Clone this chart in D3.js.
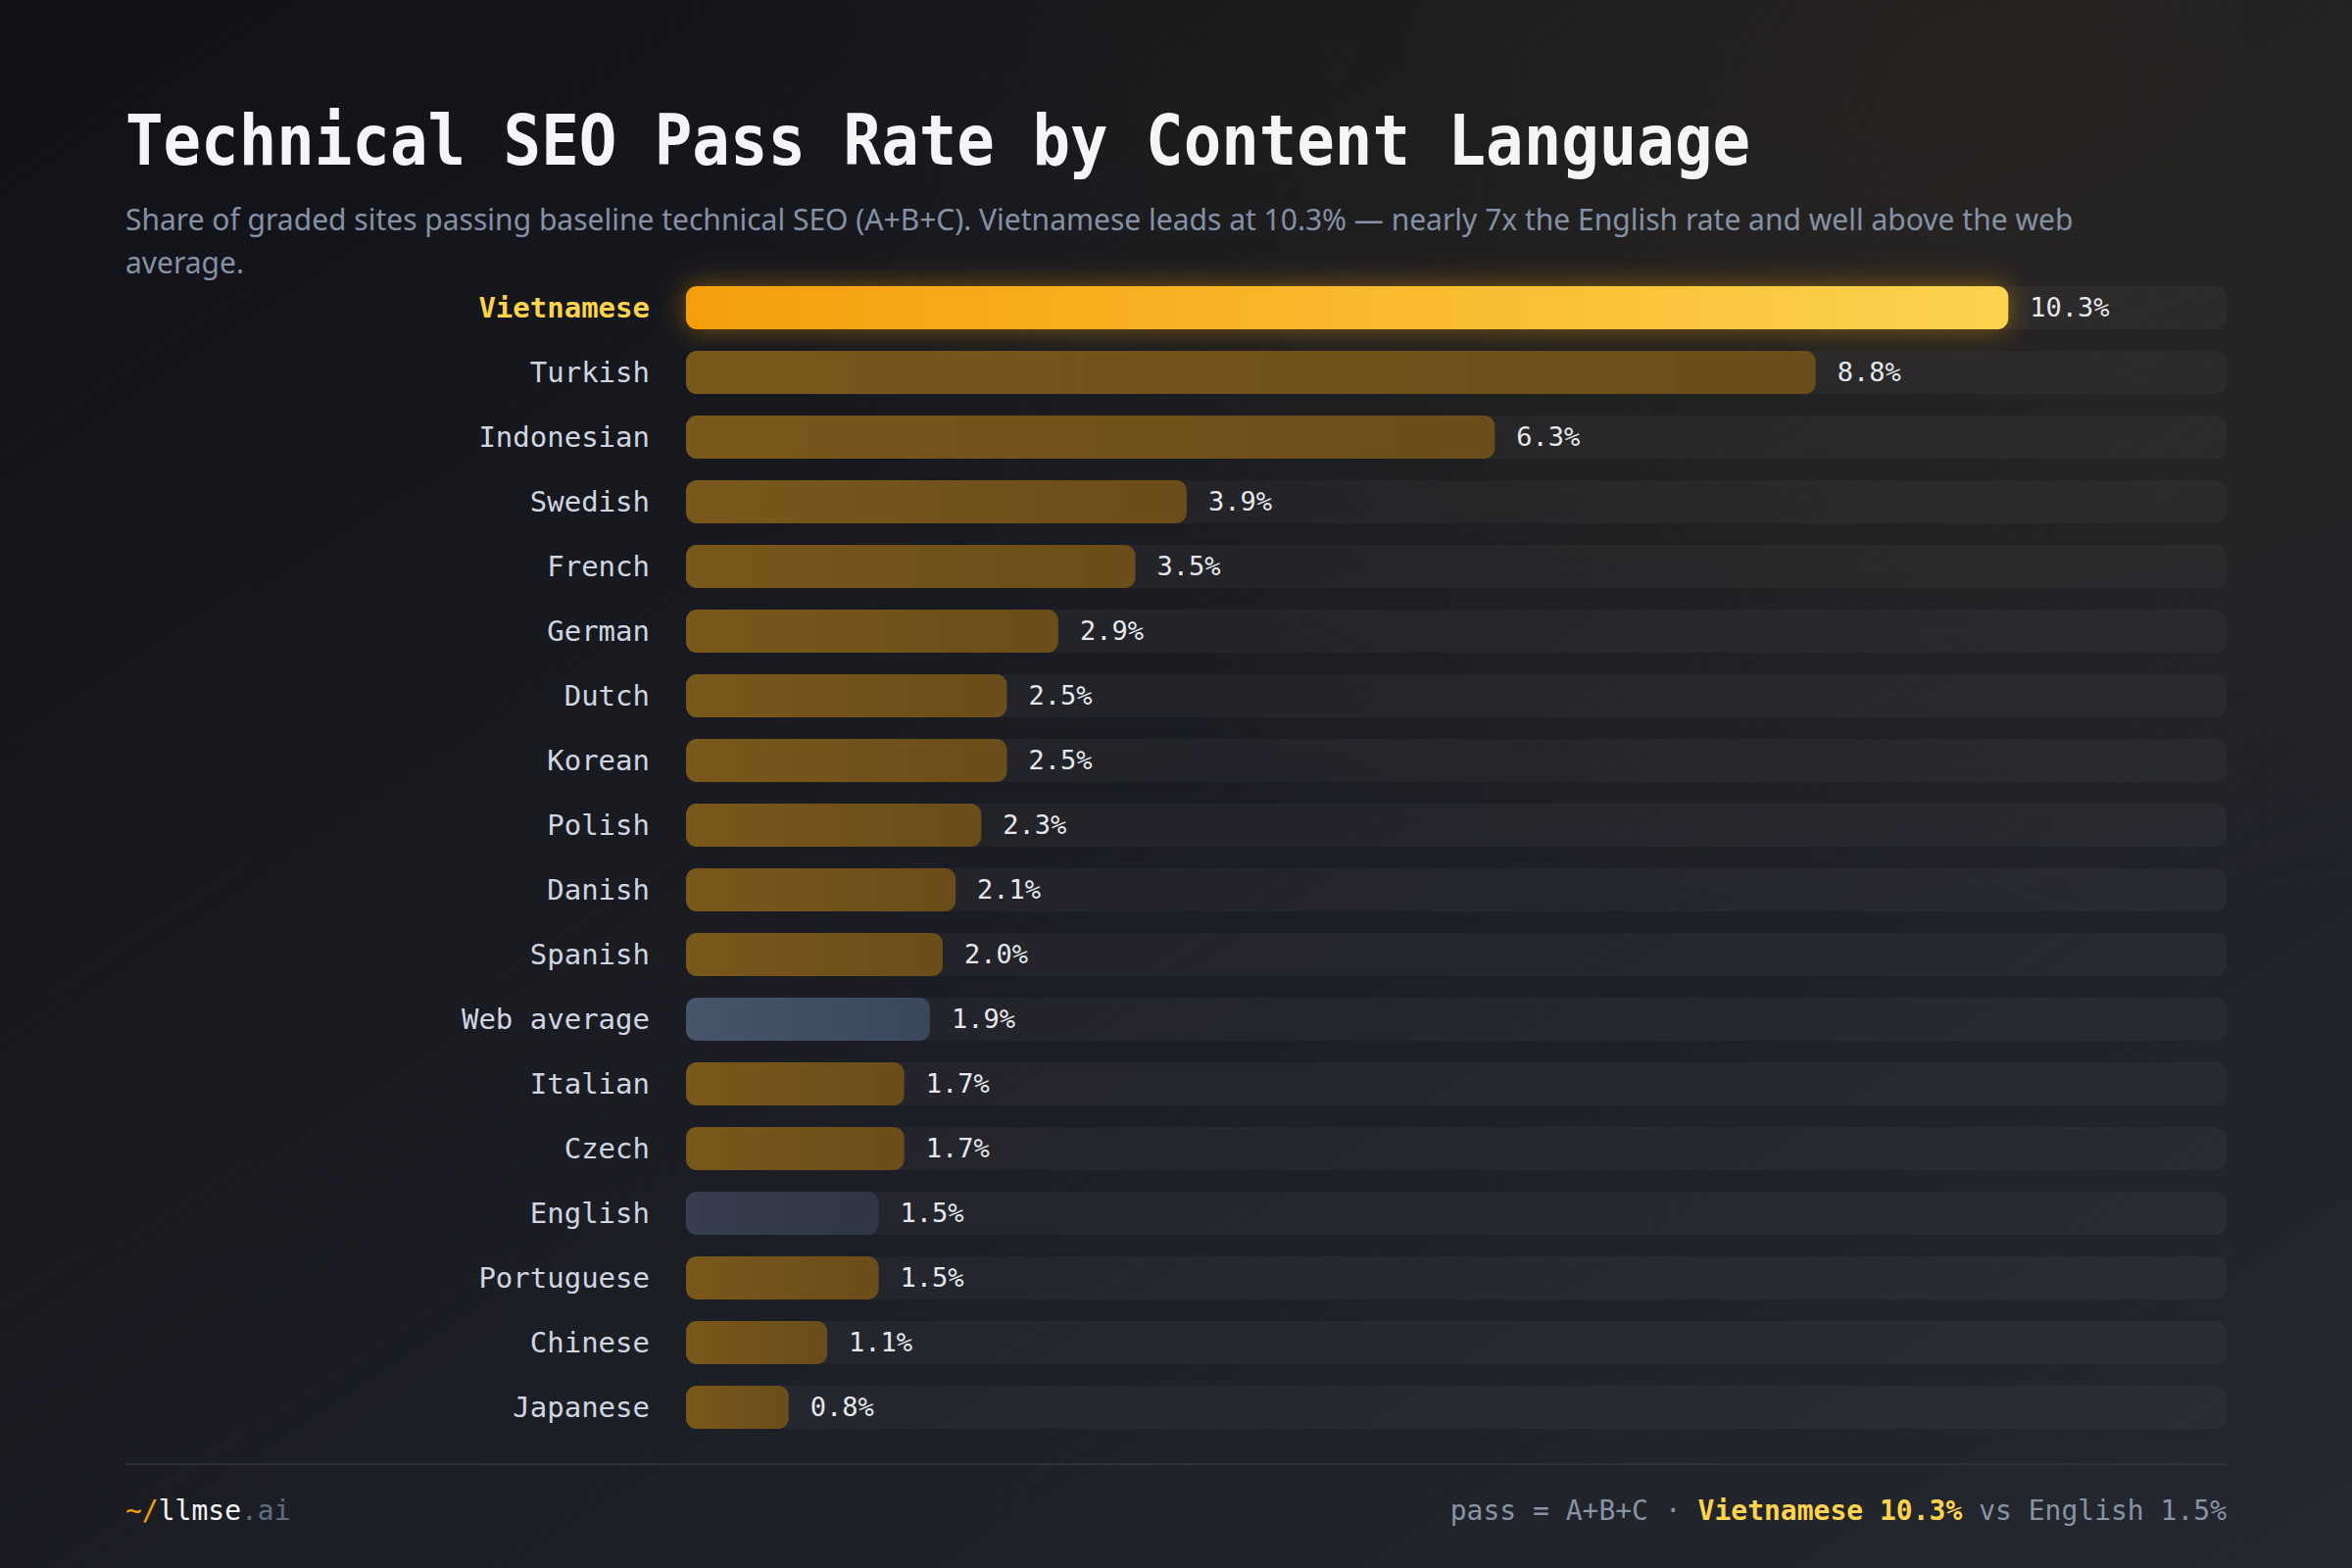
<!DOCTYPE html>
<meta charset="utf-8">
<style>
body { margin: 0; background: #15171c; }
svg { display: block; }
.title { font-family: "DejaVu Sans Mono", monospace; font-weight: bold; fill: #f4f5f7; }
.sub { font-family: "Noto Sans", "Open Sans", sans-serif; fill: #8591a5; }
.lab { font-family: "DejaVu Sans Mono", monospace; fill: #cfd6e1; }
.val { font-family: "DejaVu Sans Mono", monospace; fill: #e6e8ec; }
.foot { font-family: "DejaVu Sans Mono", monospace; }
</style>
<body>
<svg width="2400" height="1600"></svg>
<script src="https://d3js.org/d3.v7.min.js"></script>
<script>
// data
var languages = ["Vietnamese", "Turkish", "Indonesian", "Swedish", "French", "German", "Dutch",
  "Korean", "Polish", "Danish", "Spanish", "Web average", "Italian", "Czech", "English",
  "Portuguese", "Chinese", "Japanese"];
var passRates = [10.3, 8.8, 6.3, 3.9, 3.5, 2.9, 2.5, 2.5, 2.3, 2.1, 2.0, 1.9, 1.7, 1.7, 1.5, 1.5, 1.1, 0.8];
var subtitleLines = [
  "Share of graded sites passing baseline technical SEO (A+B+C). Vietnamese leads at 10.3% \u2014 nearly 7x the English rate and well above the web",
  "average."
];

var svg = d3.select("svg"),
    W = +svg.attr("width"), H = +svg.attr("height");

var defs = svg.append("defs");

var bg = defs.append("linearGradient").attr("id", "bg")
    .attr("x1", 0).attr("y1", 0).attr("x2", 1).attr("y2", 1);
bg.append("stop").attr("offset", "0%").attr("stop-color", "#111217");
bg.append("stop").attr("offset", "100%").attr("stop-color", "#252830");

var glowBg = defs.append("radialGradient").attr("id", "glowBg")
    .attr("cx", "85%").attr("cy", "5%").attr("r", "55%");
glowBg.append("stop").attr("offset", "0%").attr("stop-color", "#f59e0b").attr("stop-opacity", 0.06);
glowBg.append("stop").attr("offset", "100%").attr("stop-color", "#f59e0b").attr("stop-opacity", 0);

function grad(id, c1, c2) {
  var g = defs.append("linearGradient").attr("id", id)
      .attr("x1", 0).attr("y1", 0).attr("x2", 1).attr("y2", 0);
  g.append("stop").attr("offset", "0%").attr("stop-color", c1);
  g.append("stop").attr("offset", "100%").attr("stop-color", c2);
}
grad("gTop", "#f59e0b", "#fcd34d");
grad("gAmber", "#7a581b", "#6a4d1a");
grad("gWeb", "#465569", "#39485c");
grad("gEng", "#363e4f", "#2f3645");

var blur = defs.append("filter").attr("id", "glow")
    .attr("x", "-10%").attr("y", "-150%").attr("width", "120%").attr("height", "400%");
blur.append("feGaussianBlur").attr("stdDeviation", 14);

svg.append("rect").attr("width", W).attr("height", H).attr("fill", "url(#bg)");
svg.append("rect").attr("width", W).attr("height", H).attr("fill", "url(#glowBg)");

// header
svg.append("text").attr("class", "title")
    .attr("x", 128).attr("y", 168)
    .style("font-size", "71px")
    .attr("textLength", 1658).attr("lengthAdjust", "spacingAndGlyphs")
    .text("Technical SEO Pass Rate by Content Language");

svg.append("text").attr("class", "sub")
    .style("font-size", "30px")
    .selectAll("tspan").data(subtitleLines).join("tspan")
    .attr("x", 128).attr("y", function(d, i) { return 235 + i * 44; })
    .text(function(d) { return d; });

// scales
var left = 700, right = 2272;
var x = d3.scaleLinear().domain([0, 12]).range([left, right]);
var y = d3.scaleBand().domain(languages).range([292, 1458]).paddingInner(1 / 3).paddingOuter(0);

var rows = svg.append("g").selectAll("g").data(languages).join("g")
    .attr("transform", function(d) { return "translate(0," + y(d) + ")"; });

// tracks
rows.append("rect")
    .attr("x", x(0)).attr("width", x(12) - x(0))
    .attr("height", y.bandwidth()).attr("rx", 11)
    .attr("fill", "#ffffff").attr("fill-opacity", 0.035);

function fillFor(d) {
  if (d === "Vietnamese") return "url(#gTop)";
  if (d === "Web average") return "url(#gWeb)";
  if (d === "English") return "url(#gEng)";
  return "url(#gAmber)";
}

// glow behind the leader
rows.filter(function(d) { return d === "Vietnamese"; }).append("rect")
    .attr("x", x(0)).attr("width", x(passRates[0]) - x(0))
    .attr("height", y.bandwidth()).attr("rx", 11)
    .attr("fill", "#f59e0b").attr("opacity", 0.45)
    .attr("filter", "url(#glow)");

rows.append("rect")
    .attr("x", x(0))
    .attr("width", function(d, i) { return x(passRates[i]) - x(0); })
    .attr("height", y.bandwidth()).attr("rx", 11)
    .attr("fill", fillFor);

rows.append("text").attr("class", "lab")
    .attr("x", left - 37).attr("y", y.bandwidth() / 2).attr("dy", "0.35em")
    .attr("text-anchor", "end")
    .style("font-size", "29px")
    .style("font-weight", function(d) { return d === "Vietnamese" ? "bold" : null; })
    .style("fill", function(d) { return d === "Vietnamese" ? "#fcd34d" : null; })
    .text(function(d) { return d; });

rows.append("text").attr("class", "val")
    .attr("x", function(d, i) { return x(passRates[i]) + 22; })
    .attr("y", y.bandwidth() / 2).attr("dy", "0.35em")
    .style("font-size", "27px")
    .text(function(d, i) { return passRates[i].toFixed(1) + "%"; });

// footer
svg.append("line")
    .attr("x1", 128).attr("x2", right).attr("y1", 1494).attr("y2", 1494)
    .attr("stroke", "#2c313c").attr("stroke-width", 2);

var fl = svg.append("text").attr("class", "foot")
    .attr("x", 128).attr("y", 1551).style("font-size", "28px");
fl.append("tspan").attr("fill", "#f59e0b").text("~/");
fl.append("tspan").attr("fill", "#f4f5f7").text("llmse");
fl.append("tspan").attr("fill", "#5f6e84").text(".ai");

var fr = svg.append("text").attr("class", "foot")
    .attr("x", right).attr("y", 1551).attr("text-anchor", "end").style("font-size", "28px");
fr.append("tspan").attr("fill", "#8893a6").text("pass = A+B+C \u00b7 ");
fr.append("tspan").attr("fill", "#fcd34d").style("font-weight", "bold").text("Vietnamese " + passRates[0] + "%");
fr.append("tspan").attr("fill", "#8893a6").text(" vs English " + passRates[languages.indexOf("English")] + "%");
</script>
